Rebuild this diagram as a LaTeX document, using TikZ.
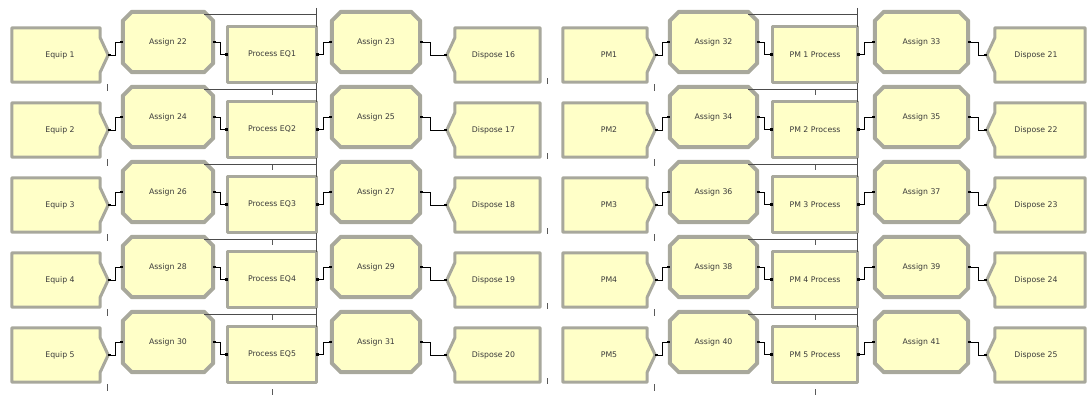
\documentclass[tikz,border=0pt]{standalone}
\usepackage{fontspec}
\newfontfamily\lblfont{DejaVu Sans}
\usetikzlibrary{calc,backgrounds,arrows.meta}
\definecolor{modfill}{HTML}{FFFFC8}
\definecolor{modedge}{HTML}{A8A89C}
\definecolor{txt}{HTML}{3A3A3A}
\begin{document}
\begin{tikzpicture}[x=1bp,y=-1bp,
  mod/.style={rectangle, draw=none, inner sep=0pt, font=\lblfont\fontsize{7.8}{9}\selectfont, text=txt},
  shapeline/.style={fill=modfill, draw=modedge, line width=3bp, line join=round},
  assignline/.style={fill=modfill, draw=modedge, line width=4bp, line join=round},
  link/.style={line width=0.9bp, {Square[length=2.6bp,width=2.6bp]}-{Square[length=2.6bp,width=2.6bp]}},
  ticks/.style={line width=0.7bp, draw=gray!70!black},
  queue/.style={line width=0.9bp, draw=black!70}]
\useasboundingbox (0,0) rectangle (1088,398);
\foreach \r in {1,...,5} {
  \pgfmathsetmacro\yy{75*(\r-1)}
  \pgfmathtruncatemacro\na{20+2*\r}
  \pgfmathtruncatemacro\nb{21+2*\r}
  \pgfmathtruncatemacro\nd{15+\r}
  \pgfmathtruncatemacro\ma{30+2*\r}
  \pgfmathtruncatemacro\mb{31+2*\r}
  \pgfmathtruncatemacro\md{20+\r}
  % left half
  \node[mod, minimum width=96bp, minimum height=54bp] (lc\r) at (60,{55+\yy}) {Equip \r};
  \node[mod, minimum width=90bp, minimum height=60bp] (la\r) at (168,{42+\yy}) {Assign \na};
  \node[mod, minimum width=88bp, minimum height=55bp] (lp\r) at (272,{54.5+\yy}) {Process EQ\r};
  \node[mod, minimum width=88bp, minimum height=60bp] (lb\r) at (376,{42+\yy}) {Assign \nb};
  \node[mod, minimum width=93bp, minimum height=54bp] (ld\r) at (493.5,{55+\yy}) {Dispose \nd};
  % right half
  \node[mod, minimum width=92bp, minimum height=54bp] (rc\r) at (609,{55+\yy}) {PM\r};
  \node[mod, minimum width=87bp, minimum height=60bp] (ra\r) at (713.5,{42+\yy}) {Assign \ma};
  \node[mod, minimum width=84bp, minimum height=55bp] (rp\r) at (815,{54.5+\yy}) {PM \r\ Process};
  \node[mod, minimum width=93bp, minimum height=60bp] (rb\r) at (921.5,{42+\yy}) {Assign \mb};
  \node[mod, minimum width=98bp, minimum height=54bp] (rd\r) at (1036,{55+\yy}) {Dispose \md};
}
\begin{pgfonlayer}{background}
\fill[white] (0,0) rectangle (1088,398);
\foreach \s in {l,r} {
\foreach \r in {1,...,5} {
  % create
  \draw[shapeline] (\s c\r.north west) -- ($(\s c\r.north east)+(-8,0)$) -- ($(\s c\r.north east)+(-8,10)$)
     -- (\s c\r.east) -- ($(\s c\r.south east)+(-8,-10)$) -- ($(\s c\r.south east)+(-8,0)$) -- (\s c\r.south west) -- cycle;
  % assigns
  \foreach \k in {a,b} {
  \draw[assignline] ($(\s\k\r.north west)+(9,0)$) -- ($(\s\k\r.north east)+(-9,0)$) -- ($(\s\k\r.north east)+(0,9)$)
     -- ($(\s\k\r.south east)+(0,-9)$) -- ($(\s\k\r.south east)+(-9,0)$) -- ($(\s\k\r.south west)+(9,0)$)
     -- ($(\s\k\r.south west)+(0,-9)$) -- ($(\s\k\r.north west)+(0,9)$) -- cycle;
  }
  % process
  \draw[shapeline] (\s p\r.north west) rectangle (\s p\r.south east);
  % dispose
  \draw[shapeline] (\s d\r.north east) -- (\s d\r.south east) -- ($(\s d\r.south west)+(8,0)$) -- ($(\s d\r.south west)+(8,-10)$)
     -- (\s d\r.west) -- ($(\s d\r.north west)+(8,10)$) -- ($(\s d\r.north west)+(8,0)$) -- cycle;
  % queue line
  \draw[queue] ($(\s a\r.north east)+(-9,3)$) -- ($(\s p\r.east |- \s a\r.north east)+(0,3)$);
  \draw[queue] ($(\s p\r.north east)+(0,-19)$) -- (\s p\r.north east);
  % counters
  \draw[ticks] ($(\s c\r.south east)+(-1,2)$) -- +(0,7);
  \draw[ticks] ($(\s d\r.south east)+(7,-4)$) -- +(0,6);
  \draw[ticks] ($(\s p\r.south)+(0,7)$) -- +(0,6);
}}
\end{pgfonlayer}
\foreach \s in {l,r} {
\foreach \r in {1,...,5} {
  \draw[link] (\s c\r.east) -- ++(7,0) |- (\s a\r.west);
  \draw[link] (\s a\r.east) -- ++(7,0) |- (\s p\r.west);
  \draw[link] (\s p\r.east) -- ++(7,0) |- (\s b\r.west);
  \draw[link] (\s b\r.east) -- ++(10,0) |- (\s d\r.west);
}}
\end{tikzpicture}
\end{document}
